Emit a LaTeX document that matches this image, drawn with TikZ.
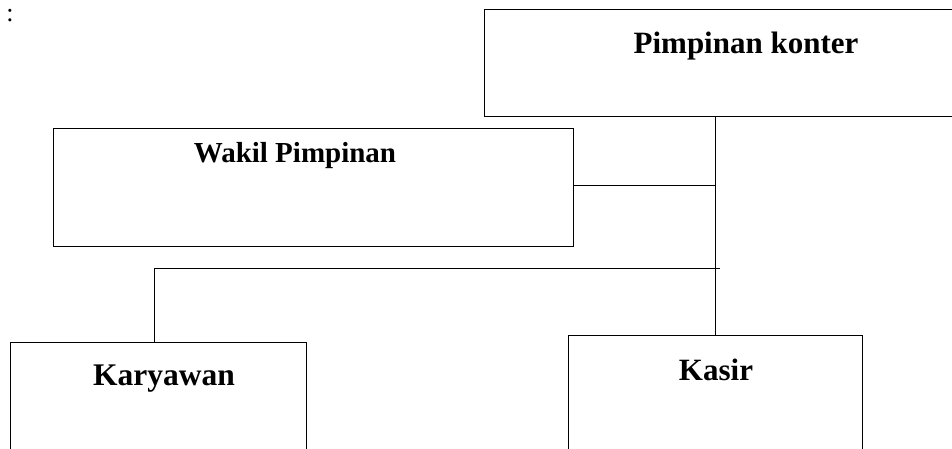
\documentclass[tikz,border=0pt]{standalone}
\usepackage{fontspec}
\setmainfont{Liberation Serif}
\begin{document}
\begin{tikzpicture}[x=1pt,y=-1pt,
  box/.style={draw,line width=1pt,rectangle,inner sep=0pt},
  lbl/.style={font=\fontsize{31}{31}\selectfont\bfseries,inner sep=0pt},
  link/.style={line width=1pt}]
\clip (0,0) rectangle (952,448);
\node[inner sep=0pt,font=\fontsize{26}{26}\selectfont,anchor=base] (colon) at (10,21) {:};
\node[box,minimum width=476pt,minimum height=107pt] (pk) at (722,62.5) {};
\node[box,minimum width=520pt,minimum height=118pt] (wk) at (313,187) {};
\node[box,minimum width=296pt,minimum height=118pt] (ky) at (158,401) {};
\node[box,minimum width=294pt,minimum height=125pt] (ks) at (715,397.5) {};
\node[lbl] (tpk) at (746,46) {Pimpinan konter};
\node[lbl,font=\fontsize{29}{29}\selectfont\bfseries,anchor=base] (twk) at (295,162) {Wakil Pimpinan};
\node[lbl,font=\fontsize{31.5}{31.5}\selectfont\bfseries,anchor=base] (tky) at (164,385) {Karyawan};
\node[lbl] (tks) at (716,370) {Kasir};
\coordinate (hl) at (154,268);
\coordinate (hr) at (720,268);
\draw[link] (pk.south -| ks.north) -- (ks.north);
\draw[link] (wk.east |- 0,185) -- (715,185);
\draw[link] (hl) -- (hr);
\draw[link] (hl) -- (hl |- ky.north);
\end{tikzpicture}
\end{document}
